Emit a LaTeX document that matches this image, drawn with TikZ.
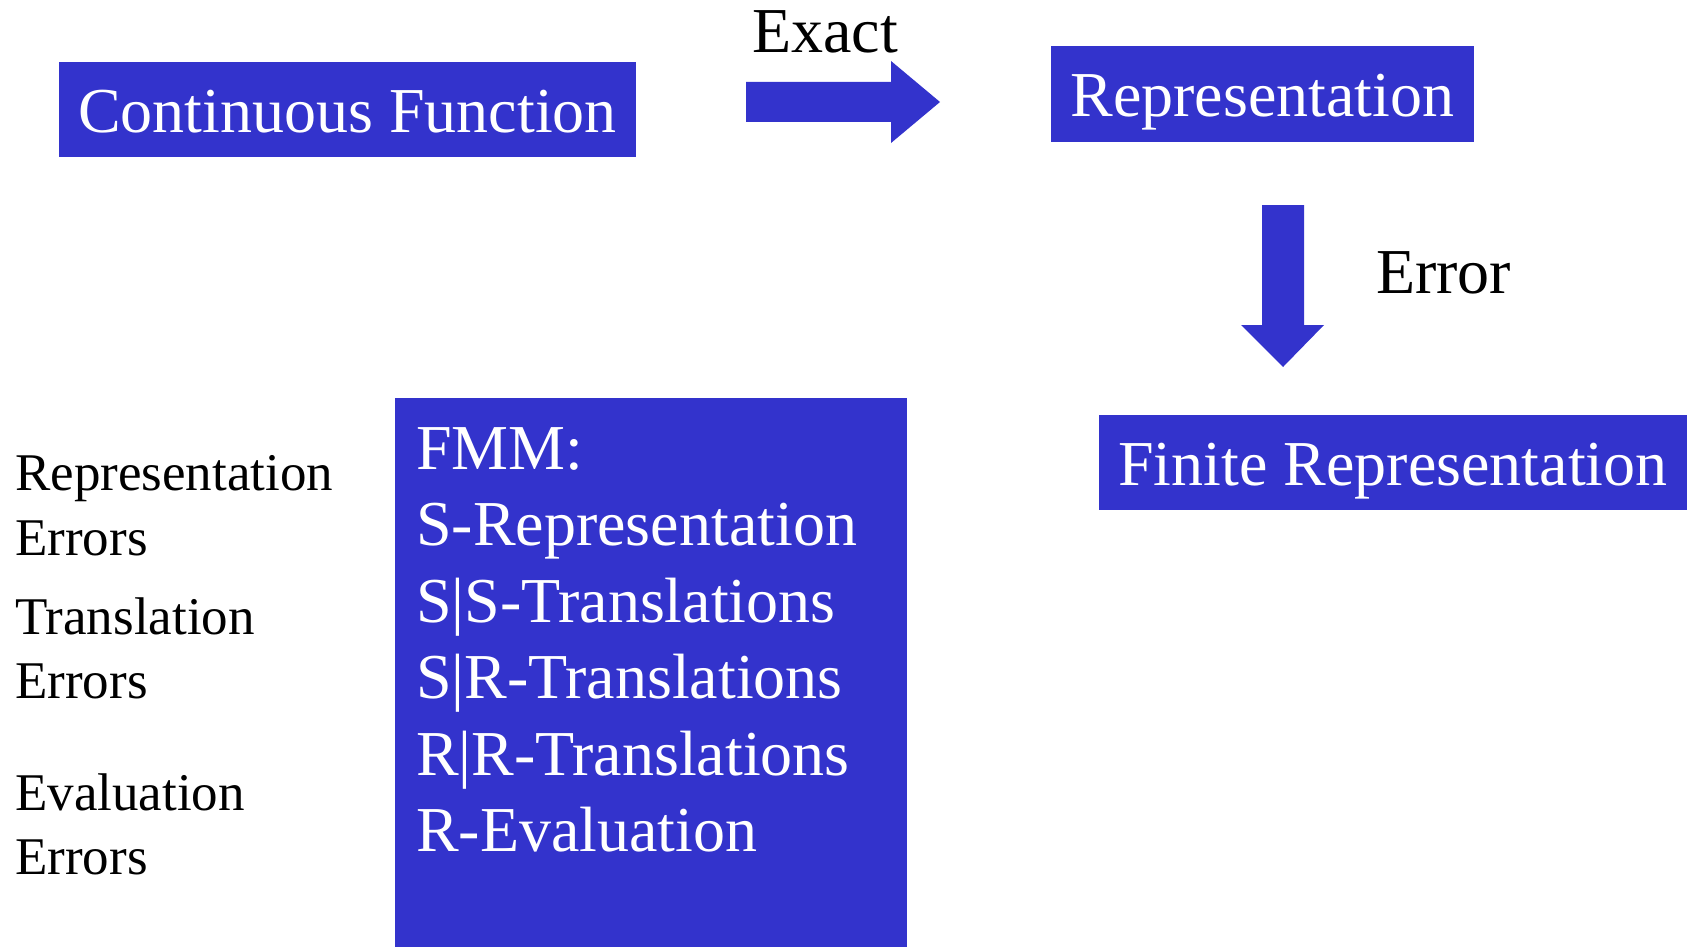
\documentclass[tikz,border=0pt]{standalone}
\usepackage{fontspec}
\setmainfont{Liberation Serif}
\definecolor{boxblue}{RGB}{51,51,204}
\tikzset{
  bluebox/.style={fill=boxblue, text=white, inner sep=0pt, font=\fontsize{64}{64}\selectfont,
    text height=70.5pt, text depth=24.5pt, align=center},
  fmmtext/.style={inner sep=0pt, text=white, font=\fontsize{64}{64}\selectfont, anchor=base west},
  blacklabel/.style={inner sep=0pt, font=\fontsize{64}{64}\selectfont, anchor=base west},
  lefttext/.style={inner sep=0pt, font=\fontsize{53}{53}\selectfont, anchor=base west},
  blockarrow/.style={fill=boxblue, draw=none}
}
\begin{document}
\begin{tikzpicture}[x=1pt,y=-1pt]
\useasboundingbox (0,0) rectangle (1691,947);
% boxes
\node[bluebox, minimum width=577pt] (cf) at (347.5,109.5) {Continuous Function};
\node[bluebox, minimum width=423pt] (rep) at (1262.5,94) {Representation};
\node[bluebox, minimum width=588pt] (fin) at (1393,462) {Finite Representation};
% block arrows
\fill[blockarrow] (746,82) -- (891,82) -- (891,61) -- (940,102) -- (891,143) -- (891,122) -- (746,122) -- cycle;
\fill[blockarrow] (1262,205) -- (1304,205) -- (1304,325) -- (1324,325) -- (1283,367) -- (1241,325) -- (1262,325) -- cycle;
\node[blacklabel] (exact) at (752,53) {Exact};
\node[blacklabel] (error) at (1376,293) {Error};
% FMM box
\node[fill=boxblue, inner sep=0pt, minimum width=512pt, minimum height=549pt, anchor=north west] (fmm) at (395,398) {};
\node[fmmtext] (f1) at (416,469) {FMM:};
\node[fmmtext] (f2) at (416,545.5) {S-Representation};
\node[fmmtext] (f3) at (416,622) {S|S-Translations};
\node[fmmtext] (f4) at (416,698.5) {S|R-Translations};
\node[fmmtext] (f5) at (416,775) {R|R-Translations};
\node[fmmtext] (f6) at (416,851.5) {R-Evaluation};
% left labels
\node[lefttext] (l1) at (15,490) {Representation};
\node[lefttext] (l2) at (15,555) {Errors};
\node[lefttext] (l3) at (15,634) {Translation};
\node[lefttext] (l4) at (15,698) {Errors};
\node[lefttext] (l5) at (15,810) {Evaluation};
\node[lefttext] (l6) at (15,874) {Errors};
\end{tikzpicture}
\end{document}
